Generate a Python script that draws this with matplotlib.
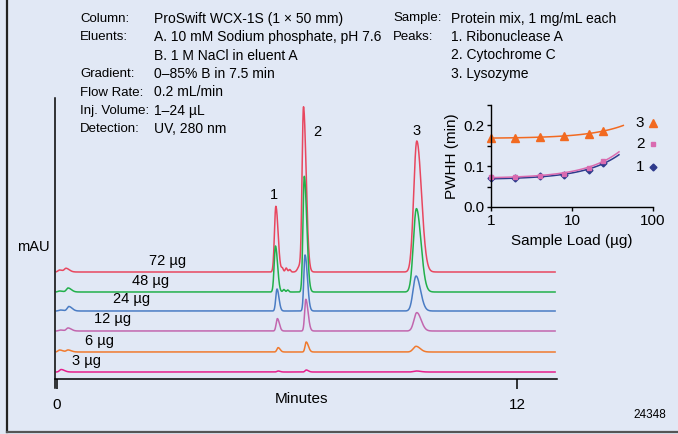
import numpy as np
import matplotlib
matplotlib.use("Agg")
import matplotlib.pyplot as plt
from matplotlib.lines import Line2D

plt.rcParams['font.family'] = ['Liberation Sans', 'DejaVu Sans']

# chromatograms: one trace per sample load
loads = ["72 µg", "48 µg", "24 µg", "12 µg", "6 µg", "3 µg"]
colors = ["#e8475f", "#22b04b", "#4a7cc4", "#c266ae", "#f07a2e", "#e61e8c"]
offsets = [107, 87, 68, 48, 27, 7]

# retention times (min) of peaks 1, 2, 3 per trace
rt1 = [5.71, 5.70, 5.74, 5.75, 5.77, 5.77]
rt2 = [6.43, 6.45, 6.47, 6.49, 6.50, 6.50]
rt3 = [9.38, 9.37, 9.36, 9.38, 9.36, 9.37]
# peak heights above baseline
h1 = [65.7, 46.0, 22.0, 12.4, 4.4, 1.0]
h2 = [162.4, 115.7, 56.0, 31.7, 10.0, 2.0]
h3 = [131.0, 83.4, 35.0, 18.4, 5.7, 1.0]
# peak widths at half height (min)
w1 = [0.085, 0.08, 0.075, 0.075, 0.075, 0.075]
w2 = [0.085, 0.08, 0.075, 0.072, 0.07, 0.07]
w3 = [0.19, 0.185, 0.18, 0.175, 0.17, 0.17]
# small shoulders after peak 1 (time, height)
sh_t = [[5.88, 5.98, 6.07], [5.92, 6.02], [], [], [], []]
sh_h = [[3.5, 4.0, 2.5], [2.5, 2.0], [], [], [], []]
# injection disturbances near t=0 (time, height)
inj_t = [[0.08, 0.25], [0.08, 0.3], [0.1, 0.32], [0.1, 0.3], [0.08, 0.3], [0.12]]
inj_h = [[2.0, 3.5], [1.0, 4.0], [1.0, 4.5], [1.0, 3.0], [2.0, 2.0], [2.5]]

# inset: PWHH vs sample load
inset_load = [1, 2, 4, 8, 16, 24]
pwhh1 = [0.070, 0.071, 0.075, 0.079, 0.090, 0.108]
pwhh2 = [0.074, 0.074, 0.077, 0.082, 0.096, 0.113]
pwhh3 = [0.169, 0.170, 0.171, 0.174, 0.180, 0.186]
fit_end = [38, 38, 43]

bg = "#e1e8f5"
fig = plt.figure(figsize=(6.78, 4.34), dpi=100, facecolor=bg)


def peak(t, rt, h, w, tail=1.6):
    s = w / 2.355
    sig = np.where(t < rt, s, s * tail)
    return h * np.exp(-0.5 * ((t - rt) / sig) ** 2)


ax = fig.add_axes([55 / 678, 1 - 388 / 434, 502 / 678, 290 / 434])
ax.set_facecolor("none")
t = np.linspace(0, 12.98, 4000)
for i in range(len(loads)):
    y = np.full_like(t, offsets[i], dtype=float)
    y += peak(t, rt1[i], h1[i], w1[i])
    y += peak(t, rt2[i], h2[i], w2[i], tail=1.9)
    y += peak(t, rt3[i], h3[i], w3[i], tail=1.5)
    if i == 0:
        y += peak(t, 6.33, 6.0, 0.12)
    for ts, hs in zip(sh_t[i], sh_h[i]):
        y += peak(t, ts, hs, 0.06, tail=1.0)
    for ts, hs in zip(inj_t[i], inj_h[i]):
        y += peak(t, ts, hs, 0.1, tail=2.0)
    ax.plot(t, y, color=colors[i], lw=1.1)

label_x = [2.88, 2.45, 1.95, 1.46, 1.11, 0.79]
for i, lab in enumerate(loads):
    ax.text(label_x[i], offsets[i] + 11.5, lab, fontsize=10.5, ha="center", va="center")

ax.text(5.65, 184, "1", fontsize=10.5, ha="center", va="center")
ax.text(6.8, 247, "2", fontsize=10.5, ha="center", va="center")
ax.text(9.38, 248, "3", fontsize=10.5, ha="center", va="center")

ax.set_xlim(-0.04, 13.03)
ax.set_ylim(-9, 281)
ax.spines["top"].set_visible(False)
ax.spines["right"].set_visible(False)
ax.spines["bottom"].set_position(("data", 0))
ax.spines["left"].set_linewidth(1.1)
ax.spines["bottom"].set_linewidth(1.1)
ax.set_xticks([0, 12])
ax.set_xticklabels(["0", "12"])
ax.set_yticks([])
ax.tick_params(axis="x", direction="out", length=7, width=1.1, labelsize=11, pad=7)

fig.text(301 / 678, 1 - 399 / 434, "Minutes", fontsize=11, ha="center", va="center")
fig.text(33 / 678, 1 - 247 / 434, "mAU", fontsize=10.5, ha="center", va="center")
fig.text(650 / 678, 1 - 415 / 434, "24348", fontsize=8.5, ha="center", va="center")

# conditions block
rows_y = [18.5, 37, 55.5, 74, 92.5, 111, 129]
left_lab = ["Column:", "Eluents:", "", "Gradient:", "Flow Rate:", "Inj. Volume:", "Detection:"]
left_val = ["ProSwift WCX-1S (1 × 50 mm)", "A. 10 mM Sodium phosphate, pH 7.6",
            "B. 1 M NaCl in eluent A", "0–85% B in 7.5 min", "0.2 mL/min",
            "1–24 µL", "UV, 280 nm"]
right_lab = ["Sample:", "Peaks:", "", ""]
right_val = ["Protein mix, 1 mg/mL each", "1. Ribonuclease A", "2. Cytochrome C", "3. Lysozyme"]
for yy, a, b in zip(rows_y, left_lab, left_val):
    fig.text(80 / 678, 1 - yy / 434, a, fontsize=9.5, va="center")
    fig.text(154 / 678, 1 - yy / 434, b, fontsize=10, va="center")
for yy, a, b in zip(rows_y, right_lab, right_val):
    fig.text(393 / 678, 1 - yy / 434, a, fontsize=9.5, va="center")
    fig.text(451 / 678, 1 - yy / 434, b, fontsize=10, va="center")

# inset
ai = fig.add_axes([491 / 678, 1 - 207 / 434, 162 / 678, 102 / 434])
ai.set_facecolor("none")
ai.set_xscale("log")
ai.set_xlim(1, 100)
ai.set_ylim(0, 0.25)
inset_series = [(pwhh1, "#2e3a8c", "D", 3.5),
                (pwhh2, "#d96bb0", "s", 3.5),
                (pwhh3, "#f26a21", "^", 6.0)]
for k, (vals, c, m, ms) in enumerate(inset_series):
    coef = np.polyfit(inset_load, vals, 1)
    xf = np.geomspace(1, fit_end[k], 100)
    ai.plot(xf, np.polyval(coef, xf), color=c, lw=1.1, clip_on=False)
    ai.plot(inset_load, vals, ls="none", marker=m, ms=ms, color=c, clip_on=False)
for sp in ["top", "right"]:
    ai.spines[sp].set_visible(False)
ai.spines["left"].set_linewidth(1.0)
ai.spines["bottom"].set_linewidth(1.0)
ai.set_yticks([0, 0.1, 0.2])
ai.set_yticklabels(["0.0", "0.1", "0.2"])
ai.set_yticks([0.05, 0.15, 0.25], minor=True)
ai.set_xticks([1, 10, 100])
ai.set_xticklabels(["1", "10", "100"])
ai.xaxis.set_minor_locator(matplotlib.ticker.NullLocator())
ai.tick_params(which="both", direction="out", length=3, width=1.0, labelsize=11, pad=2)
ai.set_xlabel("Sample Load (µg)", fontsize=11, labelpad=4)
ai.set_ylabel("PWHH (min)", fontsize=11, labelpad=3)

leg_y = [0.392, 0.618, 0.824]
for k, (vals, c, m, ms) in enumerate(inset_series):
    ai.text(0.92, leg_y[k], str(k + 1), transform=ai.transAxes, fontsize=11,
            ha="center", va="center")
    ai.plot([1.0], [leg_y[k]], transform=ai.transAxes, marker=m, ms=ms, color=c,
            clip_on=False, ls="none")

# frame lines of the panel
fig.add_artist(Line2D([6.5 / 678, 6.5 / 678], [1 - 432 / 434, 1], color="#222222", lw=1.6))
fig.add_artist(Line2D([6.5 / 678, 1], [1 - 432 / 434, 1 - 432 / 434], color="#555555", lw=1.6))

fig.savefig("out.png", dpi=100, facecolor=bg)
